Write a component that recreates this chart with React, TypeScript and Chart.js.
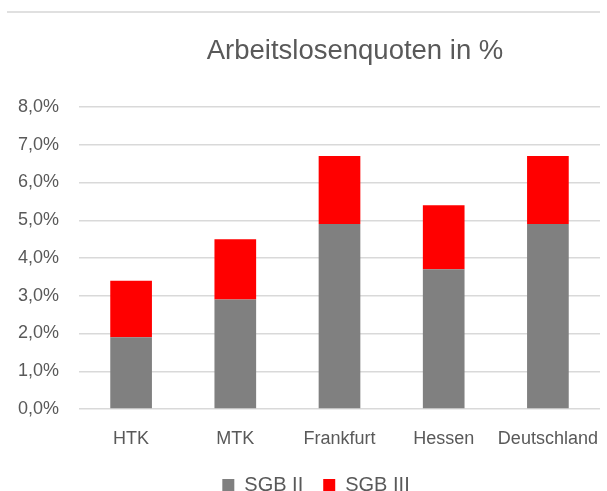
import React, { useEffect, useRef } from "react";
import { Chart, registerables } from "chart.js";

Chart.register(...registerables);

const categories = ["HTK", "MTK", "Frankfurt", "Hessen", "Deutschland"];
const sgb2 = [1.9, 2.9, 4.9, 3.7, 4.9];
const sgb3 = [1.5, 1.6, 1.8, 1.7, 1.8];
const seriesNames = ["SGB II", "SGB III"];
const titleText = "Arbeitslosenquoten in %";
const yMax = 8;
const yStep = 1;

const FONT = "'Liberation Sans', Arial, sans-serif";
const TEXT = "#595959";

export default function App() {
  const ref = useRef<HTMLCanvasElement | null>(null);

  useEffect(() => {
    document.body.style.margin = "0";
    if (!ref.current) return;
    const shiftBlocks = {
      id: "shiftBlocks",
      afterLayout(chart: any) {
        const a = chart.chartArea;
        if (chart.titleBlock) {
          chart.titleBlock.left = a.left + 31;
          chart.titleBlock.right = a.right;
        }
        if (chart.legend) {
          chart.legend.left = chart.legend.left + 14;
        }
      },
    };
    const chart = new Chart(ref.current, {
      type: "bar",
      data: {
        labels: categories,
        datasets: [
          {
            label: seriesNames[0],
            data: sgb2,
            backgroundColor: "#808080",
            borderWidth: 0,
            categoryPercentage: 1,
            barPercentage: 0.4,
          },
          {
            label: seriesNames[1],
            data: sgb3,
            backgroundColor: "#ff0000",
            borderWidth: 0,
            categoryPercentage: 1,
            barPercentage: 0.4,
          },
        ],
      },
      options: {
        responsive: false,
        animation: false,
        layout: { padding: { left: 18, right: 7, top: 0, bottom: 0 } },
        plugins: {
          tooltip: { enabled: false },
          title: {
            display: true,
            text: titleText,
            color: TEXT,
            font: { family: FONT, size: 27.5, weight: "normal", lineHeight: 1.2 },
            padding: { top: 34.5, bottom: 39.5 },
          },
          legend: {
            display: true,
            position: "bottom",
            maxHeight: 36,
            labels: {
              color: TEXT,
              font: { family: FONT, size: 20 },
              boxWidth: 12,
              boxHeight: 12,
              padding: 20,
            },
          },
        },
        scales: {
          x: {
            stacked: true,
            grid: { display: false },
            border: { display: false },
            ticks: {
              color: TEXT,
              font: { family: FONT, size: 18 },
              padding: 11,
              maxRotation: 0,
            },
            afterFit: (s: any) => {
              s.height = 46;
              s.paddingLeft = 0;
              s.paddingRight = 0;
            },
          },
          y: {
            stacked: true,
            min: 0,
            max: yMax,
            grid: { color: "#d9d9d9", lineWidth: 1.5, drawTicks: false },
            border: { display: false },
            ticks: {
              stepSize: yStep,
              color: TEXT,
              font: { family: FONT, size: 18 },
              padding: 20,
              callback: (v: any) => Number(v).toFixed(1).replace(".", ",") + "%",
            },
            afterFit: (s: any) => {
              s.width = 61;
            },
          },
        },
      },
      plugins: [shiftBlocks],
    } as any);
    return () => chart.destroy();
  }, []);

  return (
    <div style={{ position: "relative", width: 607, height: 491 }}>
      <div
        style={{
          position: "absolute",
          left: 7,
          top: 11,
          width: 593,
          height: 0,
          borderTop: "2px solid #e0e0e0",
        }}
      />
      <canvas ref={ref} width={607} height={491} style={{ display: "block" }} />
    </div>
  );
}
